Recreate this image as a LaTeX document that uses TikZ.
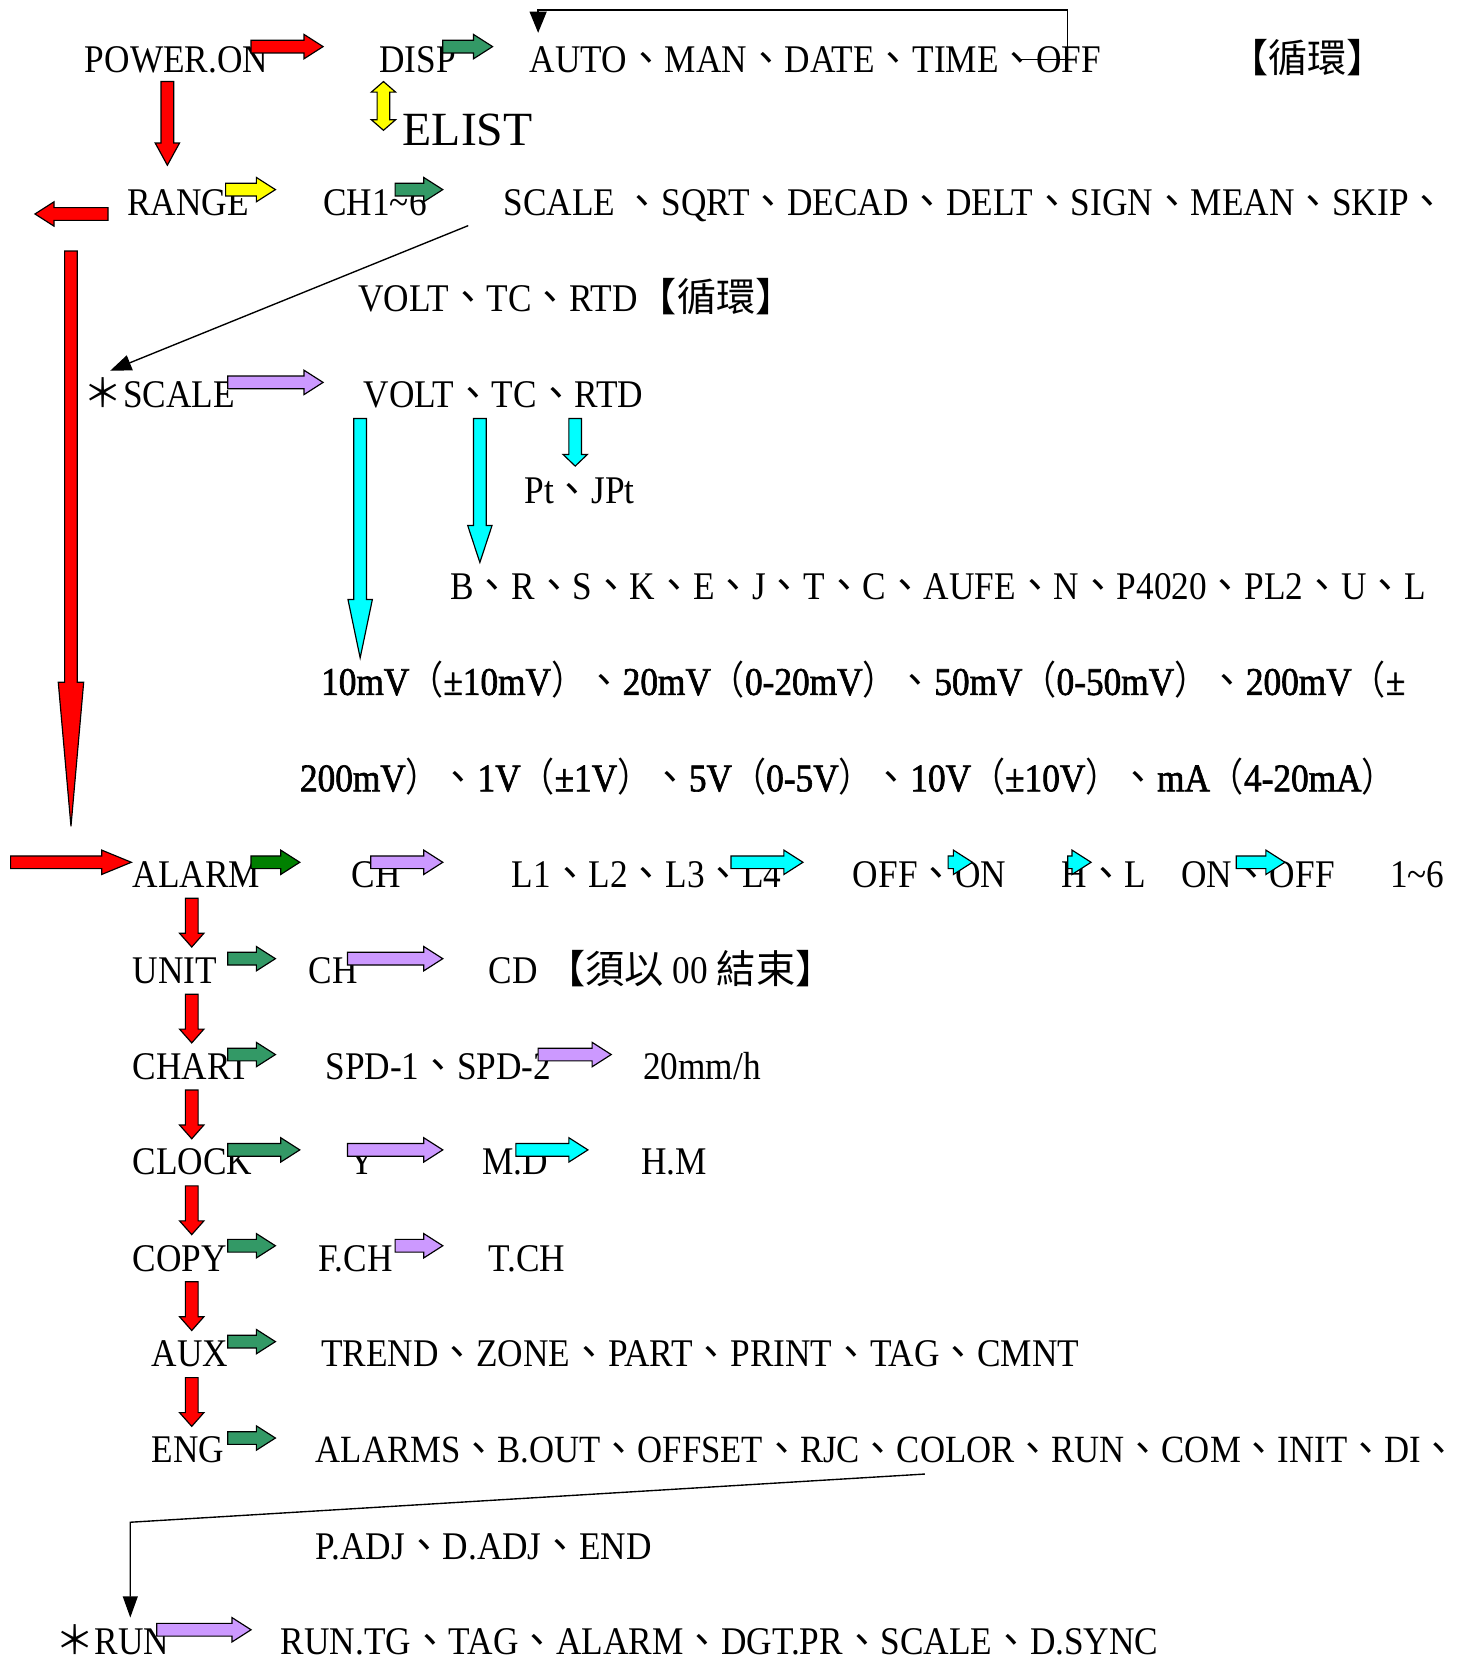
\documentclass[tikz,border=0pt]{standalone}
\usepackage{graphicx}
\usepackage{fontspec}
\setmainfont{Liberation Serif}[FakeStretch=0.90]
\newfontfamily\plainserif{Liberation Serif}
\newfontfamily\heavyserif{Liberation Serif}[FakeStretch=0.90, FakeBold=1.6]
\newfontfamily\cjk{Noto Sans CJK TC}
\usetikzlibrary{arrows.meta, calc}
\definecolor{arrowred}{HTML}{FF0000}
\definecolor{seagreen}{HTML}{339966}
\definecolor{leafgreen}{HTML}{008000}
\definecolor{lemon}{HTML}{FFFF00}
\definecolor{aqua}{HTML}{00FFFF}
\definecolor{lilac}{HTML}{CC99FF}

\newcommand{\dun}{\scalebox{0.96}[1]{\cjk 、}}
\newcommand{\lp}{\scalebox{0.87}[1]{\cjk （}}
\newcommand{\rp}{\scalebox{0.87}[1]{\cjk ）}}
\newcommand{\cj}[1]{{\cjk #1}}

\tikzset{
  txt/.style={anchor=base west, inner sep=0pt, font=\fontsize{37}{37}\selectfont},
  boldtxt/.style={txt, font=\fontsize{37}{37}\selectfont\heavyserif},
  blockarrow/.style={draw=black, line width=1.1pt, line join=miter},
  linkline/.style={draw=black, line width=1.3pt},
}

% block arrows: [head length]{colour}{x tail}{x tip}{y}
\newcommand{\hbarrow}[5][18]{%
  \filldraw[blockarrow, fill=#2]
    (#3,#5-6) -- ({#4-#1*sign(#4-#3)},#5-6) -- ({#4-#1*sign(#4-#3)},#5-11.5) -- (#4,#5)
    -- ({#4-#1*sign(#4-#3)},#5+11.5) -- ({#4-#1*sign(#4-#3)},#5+6) -- (#3,#5+6) -- cycle;}
% {colour}{x}{y tail}{y tip}{head length}{head half width}
\newcommand{\vbarrow}[6]{%
  \filldraw[blockarrow, fill=#1]
    (#2-6,#3) -- (#2-6,#4-#5) -- (#2-#6,#4-#5) -- (#2,#4)
    -- (#2+#6,#4-#5) -- (#2+6,#4-#5) -- (#2+6,#3) -- cycle;}

\begin{document}
\begin{tikzpicture}[x=1pt, y=-1pt]
  \useasboundingbox[fill=white] (0,0) rectangle (1381,1568);

  % top rows
  \node[txt] (poweron) at (80,68) {POWER.ON};
  \node[txt] (disp) at (358,68) {DISP};
  \node[txt] (dispitems) at (500,68) {AUTO\dun MAN\dun DATE\dun TIME\dun OFF};
  \node[txt] (dispcycle) at (1160,68) {\cj{【循環】}};
  \node[txt, font=\fontsize{45}{45}\selectfont\plainserif] (elist) at (380,137) {ELIST};

  \node[txt] (range) at (120,203) {RANGE};
  \node[txt] (chs) at (305,203) {CH1\textasciitilde 6};
  \node[txt] (chitems) at (475,203) {SCALE \dun SQRT\dun DECAD\dun DELT\dun SIGN\dun MEAN\dun SKIP\dun};
  \node[txt] (chitemsb) at (338,294) {VOLT\dun TC\dun RTD\cj{【循環】}};

  % scale block
  \node[txt] (scale) at (79,385) {\cj{＊}SCALE};
  \node[txt] (scaleitems) at (343,385) {VOLT\dun TC\dun RTD};
  \node[txt] (rtditems) at (495,475) {Pt\dun JPt};
  \node[txt] (tcitems) at (425,566) {B\dun R\dun S\dun K\dun E\dun J\dun T\dun C\dun AUFE\dun N\dun P4020\dun PL2\dun U\dun L};
  \node[boldtxt] (voltitems) at (303,656) {10mV\lp±10mV\rp\dun 20mV\lp 0-20mV\rp\dun 50mV\lp 0-50mV\rp\dun 200mV\lp±};
  \node[boldtxt] (voltitemsb) at (283,747) {200mV\rp\dun 1V\lp±1V\rp\dun 5V\lp 0-5V\rp\dun 10V\lp±10V\rp\dun mA\lp 4-20mA\rp};

  % menu column
  \node[txt] (alarm) at (125,838) {ALARM};
  \node[txt] (alarmch) at (332,838) {CH};
  \node[txt] (alarmlevels) at (483,838) {L1\dun L2\dun L3\dun L4};
  \node[txt] (alarmtype) at (805,838) {OFF\dun ON};
  \node[txt] (alarmhl) at (1002,838) {H\dun L};
  \node[txt] (alarmlatch) at (1115,838) {ON\dun OFF};
  \node[txt] (alarmrelay) at (1312,838) {1\textasciitilde 6};

  \node[txt] (unit) at (125,928) {UNIT};
  \node[txt] (unitch) at (291,928) {CH};
  \node[txt] (unitcd) at (461,928) {CD \cj{【須以} 00 \cj{結束】}};

  \node[txt] (chart) at (125,1019) {CHART};
  \node[txt] (chartspd) at (307,1019) {SPD-1\dun SPD-2};
  \node[txt] (chartrate) at (607,1019) {20mm/h};

  \node[txt] (clock) at (125,1109) {CLOCK};
  \node[txt] (clocky) at (330,1109) {Y};
  \node[txt] (clockmd) at (455,1109) {M.D};
  \node[txt] (clockhm) at (605,1109) {H.M};

  \node[txt] (copy) at (125,1200) {COPY};
  \node[txt] (copyfrom) at (300,1200) {F.CH};
  \node[txt] (copyto) at (461,1200) {T.CH};

  \node[txt] (aux) at (143,1290) {AUX};
  \node[txt] (auxitems) at (303,1290) {TREND\dun ZONE\dun PART\dun PRINT\dun TAG\dun CMNT};

  \node[txt] (eng) at (143,1381) {ENG};
  \node[txt, font=\fontsize{36.4}{37}\selectfont] (engitems) at (298,1381) {ALARMS\dun B.OUT\dun OFFSET\dun RJC\dun COLOR\dun RUN\dun COM\dun INIT\dun DI\dun};
  \node[txt] (engitemsb) at (298,1472) {P.ADJ\dun D.ADJ\dun END};

  \node[txt] (run) at (52,1562) {\cj{＊}RUN};
  \node[txt] (runitems) at (265,1562) {RUN.TG\dun TAG\dun ALARM\dun DGT.PR\dun SCALE\dun D.SYNC};

  % block arrows
  \hbarrow{arrowred}{237}{305}{44}
  \hbarrow{seagreen}{418}{465}{44}
  \vbarrow{arrowred}{158}{77}{156}{21}{11.5}
  \filldraw[blockarrow, fill=lemon] (362,77) -- (373.5,87) -- (368,87) -- (368,113) -- (373.5,113)
    -- (362,123) -- (350.5,113) -- (356,113) -- (356,87) -- (350.5,87) -- cycle;
  \hbarrow{arrowred}{102}{33}{202}
  \hbarrow{lemon}{213}{260}{179}
  \hbarrow{seagreen}{373}{418}{179}
  \vbarrow{arrowred}{67}{237}{780}{136}{12}
  \hbarrow{lilac}{215}{305}{361}
  \vbarrow{aqua}{340}{395}{621}{55}{11.5}
  \vbarrow{aqua}{453}{395}{531}{35}{11.5}
  \vbarrow{aqua}{543}{395}{440}{11}{11.5}

  \hbarrow[28]{arrowred}{10}{124}{814}
  \hbarrow{leafgreen}{237}{283}{814}
  \hbarrow{lilac}{350}{418}{814}
  \hbarrow{aqua}{690}{758}{814}
  \hbarrow{aqua}{895}{918}{814}
  \hbarrow{aqua}{1008}{1030}{814}
  \hbarrow{aqua}{1167}{1213}{814}

  \foreach \y in {848,938.5,1029,1119.5,1210,1300.5}
    \vbarrow{arrowred}{181}{\y}{\y+46}{13}{11.5};

  \hbarrow{seagreen}{215}{260}{905}
  \hbarrow{lilac}{328}{418}{905}
  \hbarrow{seagreen}{215}{260}{995.5}
  \hbarrow{lilac}{508}{577}{995.5}
  \hbarrow{seagreen}{215}{283}{1085.5}
  \hbarrow{lilac}{328}{418}{1085.5}
  \hbarrow{aqua}{487}{555}{1085.5}
  \hbarrow{seagreen}{215}{260}{1176}
  \hbarrow{lilac}{373}{418}{1176}
  \hbarrow{seagreen}{215}{260}{1266.5}
  \hbarrow{seagreen}{215}{260}{1357.5}
  \hbarrow{lilac}{148}{237}{1538.5}

  % jumps
  \coordinate (offtail) at (961,56);
  \coordinate (autohead) at (508,31);
  \draw[linkline, -{Triangle[width=16, length=20]}] (offtail) -- ++(47,0) -- ++(0,-46.6) -| (autohead);
  \coordinate (chtail) at (442,213);
  \coordinate (scalehead) at (104,350);
  \draw[linkline, -{Triangle[width=15, length=20]}] (chtail) -- (scalehead);
  \coordinate (engtail) at (873,1391.5);
  \coordinate (runhead) at (123,1527);
  \draw[linkline, -{Triangle[width=14, length=20]}] (engtail) -- ++(-750,45.5) -- (runhead);
\end{tikzpicture}
\end{document}
